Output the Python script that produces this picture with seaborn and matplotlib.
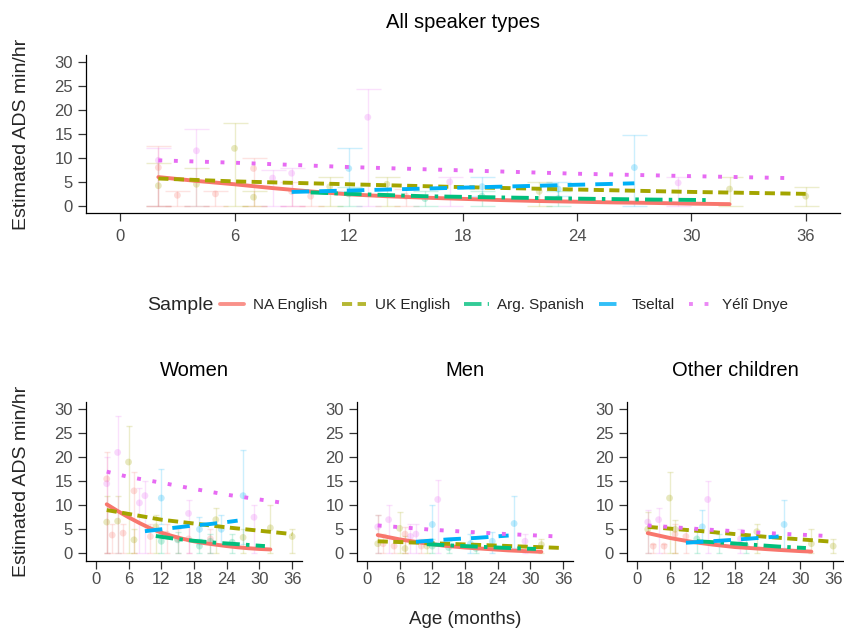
import matplotlib
matplotlib.use("Agg")
import matplotlib.pyplot as plt
import pandas as pd
import seaborn as sns
from matplotlib.lines import Line2D

# ---------------- data ----------------
SAMPLES = ["NA English", "UK English", "Arg. Spanish", "Tseltal", "Yélî Dnye"]
COLORS = ["#F8766D", "#A3A500", "#00BF7D", "#00B0F6", "#E76BF3"]
PANEL_TITLES = ["All speaker types", "Women", "Men", "Other children"]
X_TICKS = [0, 6, 12, 18, 24, 30, 36]
Y_TICKS = [0, 5, 10, 15, 20, 25, 30]
Y_LABEL = "Estimated ADS min/hr"
X_LABEL = "Age (months)"
LEGEND_TITLE = "Sample"

# fitted curves: (ages, estimated ADS) per sample
FIT_ALL = {
    "NA English": ([2, 4, 6, 8, 10, 12, 14, 16, 18, 20, 22, 24, 26, 28, 30, 32],
                   [6.0, 5.2, 4.5, 3.7, 3.0, 2.4, 2.0, 1.7, 1.45, 1.2, 1.0, 0.85, 0.7, 0.6, 0.45, 0.35]),
    "UK English": ([2, 6, 12, 18, 24, 30, 36], [5.7, 5.1, 4.5, 3.9, 3.4, 2.9, 2.5]),
    "Arg. Spanish": ([10, 12, 16, 20, 24, 28, 31], [2.8, 2.5, 2.0, 1.75, 1.5, 1.3, 1.2]),
    "Tseltal": ([9, 12, 15, 18, 21, 24, 27], [2.9, 3.2, 3.5, 3.8, 4.1, 4.4, 4.7]),
    "Yélî Dnye": ([2, 6, 12, 18, 24, 30, 35], [9.5, 9.0, 8.1, 7.4, 6.7, 6.2, 5.8]),
}
FIT_WOMEN = {
    "NA English": ([2, 4, 6, 8, 10, 12, 14, 16, 18, 20, 22, 24, 26, 28, 30, 32],
                   [10.2, 8.8, 7.5, 6.3, 5.2, 4.3, 3.6, 3.0, 2.5, 2.1, 1.8, 1.5, 1.25, 1.05, 0.9, 0.8]),
    "UK English": ([2, 6, 12, 18, 24, 30, 36], [9.0, 8.2, 7.0, 6.2, 5.4, 4.7, 4.0]),
    "Arg. Spanish": ([11, 14, 18, 22, 26, 31], [3.6, 3.1, 2.6, 2.2, 1.9, 1.5]),
    "Tseltal": ([9, 12, 15, 18, 21, 24, 26], [4.6, 5.0, 5.4, 5.8, 6.1, 6.5, 6.8]),
    "Yélî Dnye": ([2, 6, 12, 18, 24, 30, 35], [17.0, 15.9, 14.7, 13.4, 12.2, 11.2, 10.4]),
}
FIT_MEN = {
    "NA English": ([2, 6, 10, 14, 18, 22, 26, 30, 32], [3.8, 2.9, 2.2, 1.6, 1.2, 0.9, 0.6, 0.4, 0.3]),
    "UK English": ([2, 12, 24, 36], [2.5, 2.1, 1.6, 1.1]),
    "Arg. Spanish": ([11, 16, 21, 26, 31], [1.9, 1.6, 1.35, 1.1, 0.9]),
    "Tseltal": ([9, 15, 20, 26], [2.4, 2.9, 3.2, 3.7]),
    "Yélî Dnye": ([2, 12, 24, 35], [5.8, 4.9, 4.1, 3.5]),
}
FIT_OTHER = {
    "NA English": ([2, 6, 10, 14, 18, 22, 26, 30, 32], [4.2, 3.2, 2.4, 1.8, 1.3, 1.0, 0.7, 0.45, 0.35]),
    "UK English": ([2, 12, 24, 36], [5.5, 4.6, 3.4, 2.4]),
    "Arg. Spanish": ([11, 16, 21, 26, 31], [2.5, 2.2, 1.8, 1.4, 1.1]),
    "Tseltal": ([9, 15, 20, 26], [2.2, 2.6, 3.0, 3.5]),
    "Yélî Dnye": ([2, 12, 24, 35], [5.8, 5.0, 4.2, 3.6]),
}

# observed points: (age, mean, low, high) per sample
PTS_ALL = {
    "NA English": [(2, 8, 0, 12.5), (3, 2.2, 0, 3), (5, 2.5, 0, 3), (7, 7.8, 0, 10), (9, 3, 0, 5),
                   (10, 2, 0, 3), (15, 2, 0, 3.5)],
    "UK English": [(2, 4.2, 0, 9), (4, 4.5, 0, 8), (6, 12, 0, 17.2), (7, 1.8, 0, 3), (11, 4, 0, 6),
                   (14, 4.5, 0, 6), (22, 3, 0, 5), (32, 3.5, 0, 6), (36, 2, 0, 4)],
    "Arg. Spanish": [(12, 2.5, 0, 4), (16, 1.5, 0, 3), (19, 2, 0, 3), (23, 1.5, 0, 3)],
    "Tseltal": [(12, 7.8, 3, 12), (19, 4, 2, 6), (23, 3.5, 2, 5), (27, 8, 0, 14.7)],
    "Yélî Dnye": [(2, 9.5, 0, 12), (4, 11.5, 0, 16), (8, 5.8, 0, 7.5), (9, 6.8, 0, 8), (13, 18.5, 0, 24.5),
                  (17.3, 5, 0, 6), (29.3, 4.8, 0, 6)],
}
PTS_WOMEN = {
    "NA English": [(2, 15.5, 0, 21), (3, 3.8, 0, 6), (5, 4.2, 0, 6), (7, 13, 0, 17), (10, 3.5, 0, 6),
                   (13, 4, 0, 6), (15, 3, 0, 5), (17, 3, 0, 6), (21, 3, 0, 5)],
    "UK English": [(2, 6.5, 0, 12), (4, 6.7, 0, 12), (6, 19, 0, 26.5), (7, 2.8, 0, 5), (11, 5.5, 0, 8),
                   (22, 7, 0, 9.5), (27, 3.3, 0, 5), (32, 5.3, 0, 10), (36, 3.5, 0, 5)],
    "Arg. Spanish": [(12, 2.5, 0, 4), (15, 2.8, 0, 4.5), (19, 1.5, 0, 3), (21, 2.5, 0, 4), (25, 2.3, 0, 4)],
    "Tseltal": [(12, 11.5, 6, 17.5), (19, 5, 2, 7.5), (23, 5, 2, 8), (27, 12, 2, 21.5)],
    "Yélî Dnye": [(2, 14.5, 0, 20), (4, 21, 0, 28.5), (8, 10.5, 0, 13.5), (9, 12, 0, 15),
                  (17, 8.3, 0, 11), (29, 7.5, 0, 10)],
}
PTS_MEN = {
    "NA English": [(3, 2, 0, 4), (5, 1.5, 0, 3), (7, 4, 0, 5.5), (10, 1.5, 0, 3)],
    "UK English": [(2, 2, 0, 8), (6, 5.2, 0, 8.5), (7, 1, 0, 3.5), (11, 1.5, 0, 3), (32, 1.8, 0, 3)],
    "Arg. Spanish": [(12, 1.5, 0, 3), (15, 1.2, 0, 2.5), (20, 1, 0, 2)],
    "Tseltal": [(12, 6, 2, 10), (19, 2, 0, 4), (23, 2.5, 0, 4.5), (27, 6.2, 1, 12)],
    "Yélî Dnye": [(2, 5.5, 0, 8), (4, 7, 0, 10), (8, 3.5, 0, 6), (9, 4, 0, 6), (13, 11.2, 0, 15.3),
                  (29, 2.5, 0, 4)],
}
PTS_OTHER = {
    "NA English": [(3, 1.5, 0, 2), (5, 1.5, 0, 2), (7, 4, 0, 6), (9, 3.5, 0, 5)],
    "UK English": [(2, 5, 0, 8.5), (6, 11.5, 0, 17), (7, 5, 0, 7), (22, 4.5, 0, 6), (32, 2, 0, 5),
                   (36, 1.5, 0, 3)],
    "Arg. Spanish": [(11, 3, 0, 5), (15, 2, 0, 4), (20, 1.5, 0, 3)],
    "Tseltal": [(12, 5.5, 2, 9), (27, 6, 1, 11)],
    "Yélî Dnye": [(2, 6.5, 0, 9), (4, 7, 0, 9.5), (13, 11.2, 0, 15), (19, 3, 0, 5)],
}

# ---------------- style ----------------
sns.set_theme(style="white")
plt.rcParams["font.family"] = ["Liberation Sans", "DejaVu Sans"]

PALETTE = dict(zip(SAMPLES, COLORS))
DASHES = {
    "NA English": "",
    "UK English": (2.6, 1.4),
    "Arg. Spanish": (4.5, 1.6, 0.9, 1.6),
    "Tseltal": (4.5, 2.6),
    "Yélî Dnye": (1, 3.0),
}
LW = 2.8

W, H = 844, 630
fig = plt.figure(figsize=(W / 100, H / 100), dpi=100)
fig.patch.set_facecolor("white")


def rect(l, t, r, b):
    return [l / W, 1 - b / H, (r - l) / W, (b - t) / H]


def fit_frame(fits):
    rows = []
    for s in SAMPLES:
        ages, vals = fits[s]
        for a, v in zip(ages, vals):
            rows.append({"age": a, "ads": v, "Sample": s})
    return pd.DataFrame(rows)


def pts_frame(pts):
    rows = []
    for s in SAMPLES:
        for a, m, lo, hi in pts[s]:
            rows.append({"age": a, "ads": m, "lo": lo, "hi": hi, "Sample": s})
    return pd.DataFrame(rows)


def draw_panel(ax, fits, pts, capsize, tickpad):
    pf = pts_frame(pts)
    for s in SAMPLES:
        sub = pf[pf["Sample"] == s]
        ax.errorbar(sub["age"], sub["ads"], yerr=[sub["ads"] - sub["lo"], sub["hi"] - sub["ads"]],
                    fmt="none", ecolor=PALETTE[s], alpha=0.2, elinewidth=1.0,
                    capsize=capsize, capthick=1.0, zorder=1)
    sns.scatterplot(data=pf, x="age", y="ads", hue="Sample", palette=PALETTE, hue_order=SAMPLES,
                    s=24, alpha=0.25, edgecolor="none", legend=False, ax=ax, zorder=2)
    sns.lineplot(data=fit_frame(fits), x="age", y="ads", hue="Sample", style="Sample",
                 hue_order=SAMPLES, style_order=SAMPLES, palette=PALETTE, dashes=DASHES,
                 linewidth=LW, legend=False, ax=ax, zorder=3, estimator=None, sort=True)
    ax.set_xlim(-1.8, 37.8)
    ax.set_ylim(-1.5, 31.5)
    ax.set_xticks(X_TICKS)
    ax.set_yticks(Y_TICKS)
    ax.set_xlabel("")
    ax.set_ylabel("")
    for sp in ["top", "right"]:
        ax.spines[sp].set_visible(False)
    for sp in ["left", "bottom"]:
        ax.spines[sp].set_color("black")
        ax.spines[sp].set_linewidth(0.9)
    ax.tick_params(axis="both", which="major", direction="out", length=5.5, width=0.9,
                   color="#333333", labelcolor="#4D4D4D", labelsize=12, left=True, bottom=True)
    ax.tick_params(axis="x", pad=tickpad)
    ax.tick_params(axis="y", pad=4)
    ax.set_facecolor("white")


ax_top = fig.add_axes(rect(86, 55, 840, 213))
ax_w = fig.add_axes(rect(86, 402, 302, 560.5))
ax_m = fig.add_axes(rect(357, 402, 573, 560.5))
ax_o = fig.add_axes(rect(627, 402, 843, 560.5))

draw_panel(ax_top, FIT_ALL, PTS_ALL, capsize=9, tickpad=6)
draw_panel(ax_w, FIT_WOMEN, PTS_WOMEN, capsize=2.5, tickpad=3)
draw_panel(ax_m, FIT_MEN, PTS_MEN, capsize=2.5, tickpad=3)
draw_panel(ax_o, FIT_OTHER, PTS_OTHER, capsize=2.5, tickpad=3)

# titles
fig.text(463 / W, 1 - 22 / H, PANEL_TITLES[0], ha="center", va="center", fontsize=14.5, color="black")
fig.text(194 / W, 1 - 370 / H, PANEL_TITLES[1], ha="center", va="center", fontsize=14.5, color="black")
fig.text(465 / W, 1 - 370 / H, PANEL_TITLES[2], ha="center", va="center", fontsize=14.5, color="black")
fig.text(735 / W, 1 - 370 / H, PANEL_TITLES[3], ha="center", va="center", fontsize=14.5, color="black")

# axis labels
fig.text(22 / W, 1 - 134 / H, Y_LABEL, rotation=90, ha="center", va="center", fontsize=14)
fig.text(22 / W, 1 - 481 / H, Y_LABEL, rotation=90, ha="center", va="center", fontsize=14)
fig.text(465 / W, 1 - 620 / H, X_LABEL, ha="center", va="center", fontsize=13.5)

# legend
handles = []
for s in SAMPLES:
    h = Line2D([0], [0], color=PALETTE[s], lw=LW, alpha=0.8)
    if DASHES[s]:
        h.set_dashes(DASHES[s])
    handles.append(h)
fig.text(147 / W, 1 - 305 / H, LEGEND_TITLE, ha="left", va="center", fontsize=14)
fig.legend(handles, SAMPLES, ncol=5, loc="center left", bbox_to_anchor=(220 / W, 1 - 305 / H),
           frameon=False, fontsize=11, handlelength=1.6, handletextpad=0.55, columnspacing=0.95,
           borderaxespad=0, borderpad=0)

fig.savefig("out.png", dpi=100, facecolor="white")
